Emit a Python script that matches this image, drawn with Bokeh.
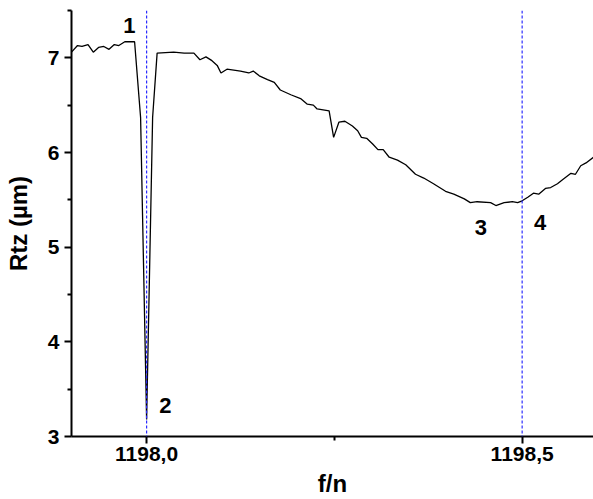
from bokeh.plotting import figure
from bokeh.models import Range1d, FixedTicker, Span, CustomJSTickFormatter, ColumnDataSource
from bokeh.core.properties import value
from bokeh.embed import file_html
from bokeh.resources import INLINE

# ---- data ----
freq = [1197.900, 1197.908, 1197.914, 1197.922, 1197.929, 1197.936, 1197.943, 1197.950, 1197.957, 1197.963,
        1197.971, 1197.984, 1197.992, 1198.000, 1198.008, 1198.014, 1198.036, 1198.050, 1198.063, 1198.071,
        1198.079, 1198.087, 1198.094, 1198.099, 1198.107, 1198.125, 1198.136, 1198.142, 1198.150, 1198.161,
        1198.170, 1198.178, 1198.192, 1198.205, 1198.214, 1198.222, 1198.227, 1198.243, 1198.249, 1198.256,
        1198.264, 1198.274, 1198.281, 1198.286, 1198.293, 1198.301, 1198.308, 1198.315, 1198.323, 1198.334,
        1198.345, 1198.358, 1198.369, 1198.382, 1198.398, 1198.409, 1198.423, 1198.431, 1198.440, 1198.458,
        1198.465, 1198.476, 1198.487, 1198.494, 1198.500, 1198.508, 1198.515, 1198.522, 1198.531, 1198.538,
        1198.547, 1198.555, 1198.565, 1198.571, 1198.578, 1198.585, 1198.595]
rtz = [7.06, 7.13, 7.12, 7.14, 7.06, 7.11, 7.12, 7.09, 7.14, 7.13,
       7.17, 7.17, 6.37, 3.18, 6.37, 7.05, 7.06, 7.05, 7.05, 6.98,
       7.01, 6.97, 6.92, 6.84, 6.88, 6.86, 6.84, 6.86, 6.81, 6.77,
       6.74, 6.66, 6.61, 6.57, 6.51, 6.50, 6.46, 6.44, 6.16, 6.32,
       6.33, 6.28, 6.23, 6.16, 6.15, 6.09, 6.03, 6.03, 5.95, 5.92,
       5.87, 5.77, 5.73, 5.67, 5.59, 5.56, 5.51, 5.47, 5.48, 5.47,
       5.44, 5.47, 5.48, 5.47, 5.49, 5.53, 5.57, 5.56, 5.62, 5.63,
       5.67, 5.72, 5.78, 5.77, 5.86, 5.89, 5.95]
marker_lines = [1198.0, 1198.5]
point_labels = ["1", "2", "3", "4"]
point_label_x = [1197.977, 1198.025, 1198.445, 1198.524]
point_label_y = [7.34, 3.33, 5.21, 5.26]
x_major_ticks = [1198.0, 1198.5]
x_minor_ticks = [1198.25]
y_major_ticks = [3, 4, 5, 6, 7]
y_minor_ticks = [3.5, 4.5, 5.5, 6.5, 7.5]

FONT = "Liberation Sans"

p = figure(width=593, height=499, output_backend="svg", toolbar_location=None,
           x_range=Range1d(1197.9, 1198.595), y_range=Range1d(3, 7.5),
           min_border_left=71, min_border_right=0, min_border_top=10, min_border_bottom=62)
p.outline_line_color = None
p.xgrid.visible = False
p.ygrid.visible = False
p.background_fill_color = "white"
p.border_fill_color = "white"

p.line(freq, rtz, line_color="black", line_width=1.3)

for xv in marker_lines:
    p.add_layout(Span(location=xv, dimension="height", line_color="#2b2bff",
                      line_dash="3 2", line_width=1.2))

src = ColumnDataSource(dict(x=point_label_x, y=point_label_y, t=point_labels))
p.text(x="x", y="y", text="t", source=src, text_font=value(FONT), text_font_size="22px",
       text_font_style="bold", text_align="center", text_baseline="middle", text_color="black")

xa = p.xaxis[0]
xa.ticker = FixedTicker(ticks=x_major_ticks, minor_ticks=x_minor_ticks)
xa.formatter = CustomJSTickFormatter(code="return tick.toFixed(1).replace('.', ',');")
xa.axis_label = "f/n"
ya = p.yaxis[0]
ya.ticker = FixedTicker(ticks=y_major_ticks, minor_ticks=y_minor_ticks)
ya.axis_label = "Rtz (µm)"

for ax in (xa, ya):
    ax.axis_line_width = 2
    ax.axis_line_color = "black"
    ax.major_tick_line_width = 2
    ax.minor_tick_line_width = 2
    ax.major_tick_in = 0
    ax.major_tick_out = 7
    ax.minor_tick_in = 0
    ax.minor_tick_out = 4
    ax.major_label_text_font = FONT
    ax.major_label_text_font_style = "bold"
    ax.major_label_text_color = "black"
    ax.axis_label_text_font = FONT
    ax.axis_label_text_font_style = "bold"
    ax.axis_label_text_color = "black"
    ax.axis_label_text_font_size = "24px"

xa.major_label_text_font_size = "21px"
xa.major_label_standoff = 3
xa.axis_label_standoff = 6
ya.major_label_text_font_size = "21px"
ya.major_label_standoff = 5
ya.axis_label_standoff = 13

open("out.html", "w").write(file_html(p, INLINE))
